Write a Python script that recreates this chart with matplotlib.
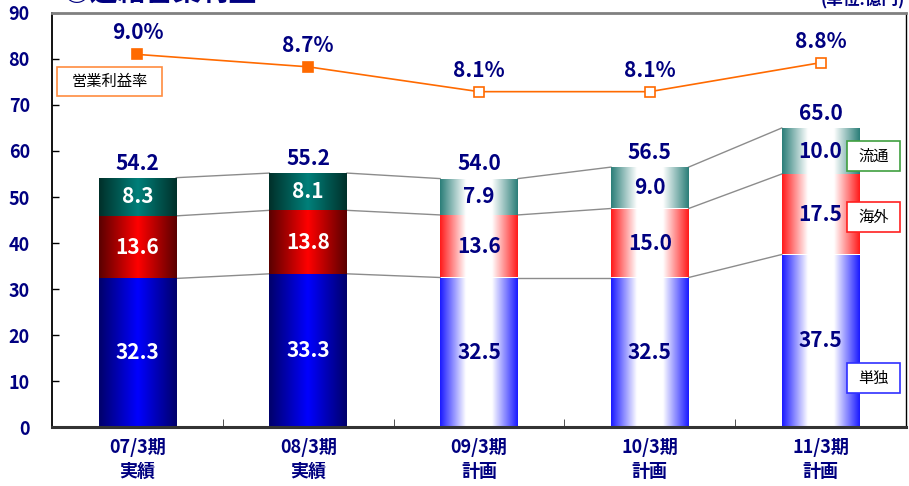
import numpy as np
import matplotlib
matplotlib.use("Agg")
import matplotlib.pyplot as plt
from matplotlib.colors import LinearSegmentedColormap
from matplotlib.patches import Rectangle

plt.rcParams['font.family'] = ['Noto Sans CJK JP', 'DejaVu Sans']

# ---- data ----
categories = ["07/3期\n実績", "08/3期\n実績", "09/3期\n計画", "10/3期\n計画", "11/3期\n計画"]
standalone = [32.3, 33.3, 32.5, 32.5, 37.5]   # 単独
overseas = [13.6, 13.8, 13.6, 15.0, 17.5]     # 海外
distribution = [8.3, 8.1, 7.9, 9.0, 10.0]     # 流通
totals = [54.2, 55.2, 54.0, 56.5, 65.0]
margin = [9.0, 8.7, 8.1, 8.1, 8.8]            # 営業利益率 (%)
is_actual = [True, True, False, False, False]
yticks = [0, 10, 20, 30, 40, 50, 60, 70, 80, 90]

NAVY = "#000080"
ORANGE = "#FF6A00"

fig = plt.figure(figsize=(9.09, 4.86), dpi=100)
ax = fig.add_axes([52/909, 1 - 427/486, (906 - 52)/909, (427 - 13)/486])
x = np.arange(len(categories))
width = 0.455

series = [standalone, overseas, distribution]
act_cols = [("#00006A", "#0000FF"), ("#5A0000", "#FF0000"), ("#00302A", "#00807A")]
plan_cols = [("#1A1AFF", "#FFFFFF"), ("#FF1A1A", "#FFFFFF"), ("#2A7E78", "#FFFFFF")]

grad = np.linspace(0, 1, 256).reshape(1, -1)
bottoms = np.zeros(len(x))
seg_tops = []
for si, vals in enumerate(series):
    bars = ax.bar(x, vals, width, bottom=bottoms, facecolor="none", edgecolor="none", zorder=2)
    for i, p in enumerate(bars.patches):
        if is_actual[i]:
            edge, center = act_cols[si]
            cmap = LinearSegmentedColormap.from_list("g", [edge, center, edge])
        else:
            edge, center = plan_cols[si]
            cmap = LinearSegmentedColormap.from_list("g", [edge, "#FFFFFF", "#FFFFFF", edge])
        im = ax.imshow(grad, extent=[p.get_x(), p.get_x() + p.get_width(), p.get_y(), p.get_y() + p.get_height()],
                       aspect="auto", cmap=cmap, zorder=2, interpolation="bilinear")
        im.set_clip_path(p)
        txt_col = "white" if is_actual[i] else NAVY
        ax.text(p.get_x() + p.get_width()/2, p.get_y() + p.get_height()/2, f"{vals[i]:.1f}",
                ha="center", va="center", color=txt_col, fontsize=15, fontweight="bold", zorder=4)
    bottoms = bottoms + np.array(vals)
    seg_tops.append(bottoms.copy())

# connector lines
for tops in seg_tops:
    for i in range(len(x) - 1):
        ax.plot([x[i] + width/2, x[i+1] - width/2], [tops[i], tops[i+1]], color="#8C8C8C", lw=1.0, zorder=1)

# totals
for i, t in enumerate(totals):
    ax.annotate(f"{t:.1f}", (x[i], bottoms[i]), xytext=(0, 3), textcoords="offset points",
                ha="center", va="bottom", color=NAVY, fontsize=15, fontweight="bold")

ax.set_xlim(-0.5, len(x) - 0.5)
ax.set_ylim(0, 90)
ax.set_yticks(yticks)
ax.set_yticklabels([str(v) for v in yticks])
ax.tick_params(axis="y", direction="in", length=5, pad=16, labelsize=13, labelcolor=NAVY, width=1)
for lab in ax.get_yticklabels():
    lab.set_fontweight("bold")
ax.set_xticks(x)
ax.set_xticklabels(categories, fontsize=13, fontweight="bold", color=NAVY, linespacing=1.3)
ax.tick_params(axis="x", length=0, pad=8)
ax.set_xticks(x[:-1] + 0.5, minor=True)
ax.tick_params(axis="x", which="minor", direction="in", length=6, color="#333333")
ax.spines["left"].set_linewidth(1.3)
ax.spines["bottom"].set_linewidth(2.2)
ax.spines["bottom"].set_color("#333333")
ax.spines["top"].set_linewidth(2.0)
ax.spines["top"].set_color("#808080")
ax.spines["right"].set_linewidth(1.0)

# margin line on secondary axis
ax2 = ax.twinx()
ax2.set_ylim(0, 10)
ax2.set_xlim(-0.5, len(x) - 0.5)
ax2.plot(x, margin, color=ORANGE, lw=1.2, zorder=3)
for i, m in enumerate(margin):
    ax2.plot(x[i], m, marker="s", markersize=7.5,
             markerfacecolor=ORANGE if is_actual[i] else "white",
             markeredgecolor=ORANGE, markeredgewidth=1.2, zorder=4)
    ax2.annotate(f"{m:.1f}%", (x[i], m), xytext=(0, 8), textcoords="offset points",
                 ha="center", va="bottom", color=NAVY, fontsize=15, fontweight="bold")
ax2.set_yticks([])
for s in ax2.spines.values():
    s.set_visible(False)

# label boxes (data coords of main axes)
def label_box(x0, x1, y0, y1, text, ec):
    r = Rectangle((x0, y0), x1 - x0, y1 - y0, transform=ax.transData, facecolor="white",
                  edgecolor=ec, lw=1.2, zorder=10, clip_on=False)
    ax.add_patch(r)
    ax.text((x0 + x1)/2, (y0 + y1)/2, text, ha="center", va="center", fontsize=11,
            color="black", zorder=11)

label_box(-0.471, 0.142, 72.0, 78.3, "営業利益率", "#FF8C40")
label_box(4.156, 4.465, 55.65, 62.2, "流通", "#40A040")
label_box(4.156, 4.465, 42.4, 48.9, "海外", "#FF2020")
label_box(4.156, 4.465, 7.4, 13.9, "単独", "#3030FF")

fig.text(63/909, 1 - 2/486, "◎連結営業利益", ha="left", va="baseline", fontsize=20,
         fontweight="bold", color=NAVY)
fig.text(905/909, 1 - 5/486, "(単位:億円)", ha="right", va="baseline", fontsize=12,
         fontweight="bold", color=NAVY)

fig.savefig("out.png", dpi=100)
